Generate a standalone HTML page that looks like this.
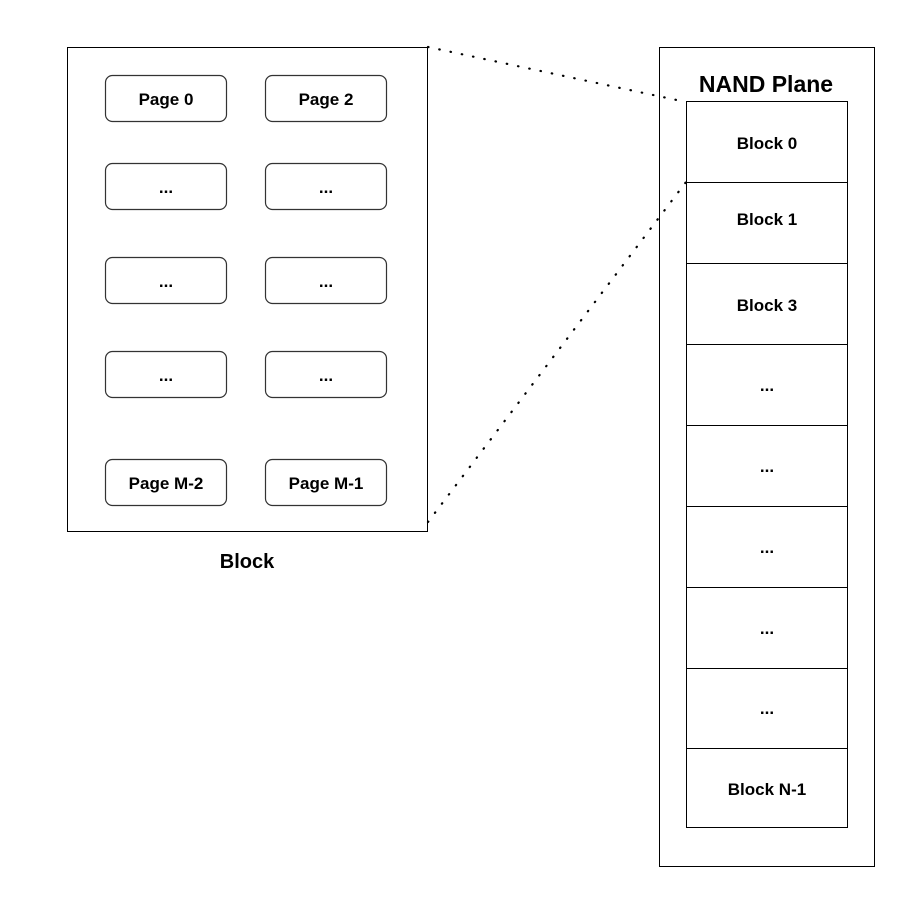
<!DOCTYPE html>
<html><head><style>
body{margin:0;background:#fff;}
svg text{font-family:"Liberation Sans",Arial,sans-serif;font-weight:bold;fill:#000;}
</style></head><body>
<svg width="905" height="898" viewBox="0 0 905 898" xmlns="http://www.w3.org/2000/svg">
<rect x="67.5" y="47.5" width="360" height="484" fill="#fff" stroke="#000" stroke-width="1"/>
<g fill="#fff" stroke="#333" stroke-width="1.2">
<rect x="105.5" y="75.5" width="121" height="46" rx="7"/>
<rect x="265.5" y="75.5" width="121" height="46" rx="7"/>
<rect x="105.5" y="163.5" width="121" height="46" rx="7"/>
<rect x="265.5" y="163.5" width="121" height="46" rx="7"/>
<rect x="105.5" y="257.5" width="121" height="46" rx="7"/>
<rect x="265.5" y="257.5" width="121" height="46" rx="7"/>
<rect x="105.5" y="351.5" width="121" height="46" rx="7"/>
<rect x="265.5" y="351.5" width="121" height="46" rx="7"/>
<rect x="105.5" y="459.5" width="121" height="46" rx="7"/>
<rect x="265.5" y="459.5" width="121" height="46" rx="7"/>
</g>
<g font-size="17" text-anchor="middle">
<text x="166" y="105">Page 0</text>
<text x="326" y="105">Page 2</text>
<text x="166" y="193">...</text><text x="326" y="193">...</text>
<text x="166" y="287">...</text><text x="326" y="287">...</text>
<text x="166" y="381">...</text><text x="326" y="381">...</text>
<text x="166" y="489">Page M-2</text>
<text x="326" y="489">Page M-1</text>
</g>
<text x="247" y="568" font-size="20" text-anchor="middle">Block</text>
<rect x="659.5" y="47.5" width="215" height="819" fill="#fff" stroke="#000"/>
<text x="766" y="92" font-size="23" text-anchor="middle">NAND Plane</text>
<g fill="#fff" stroke="#000">
<rect x="686.5" y="101.5" width="161" height="81"/>
<rect x="686.5" y="182.5" width="161" height="81"/>
<rect x="686.5" y="263.5" width="161" height="81"/>
<rect x="686.5" y="344.5" width="161" height="81"/>
<rect x="686.5" y="425.5" width="161" height="81"/>
<rect x="686.5" y="506.5" width="161" height="81"/>
<rect x="686.5" y="587.5" width="161" height="81"/>
<rect x="686.5" y="668.5" width="161" height="80"/>
<rect x="686.5" y="748.5" width="161" height="79"/>
</g>
<g font-size="17" text-anchor="middle">
<text x="767" y="149">Block 0</text>
<text x="767" y="225">Block 1</text>
<text x="767" y="311">Block 3</text>
<text x="767" y="391">...</text>
<text x="767" y="472">...</text>
<text x="767" y="553">...</text>
<text x="767" y="634">...</text>
<text x="767" y="714">...</text>
<text x="767" y="795">Block N-1</text>
</g>
<g stroke="#000" stroke-width="2.2" stroke-dasharray="0.5,11" stroke-linecap="round" fill="none">
<line x1="428" y1="47" x2="686" y2="102"/>
<line x1="428" y1="522" x2="686" y2="182"/>
</g>
</svg>
</body></html>
